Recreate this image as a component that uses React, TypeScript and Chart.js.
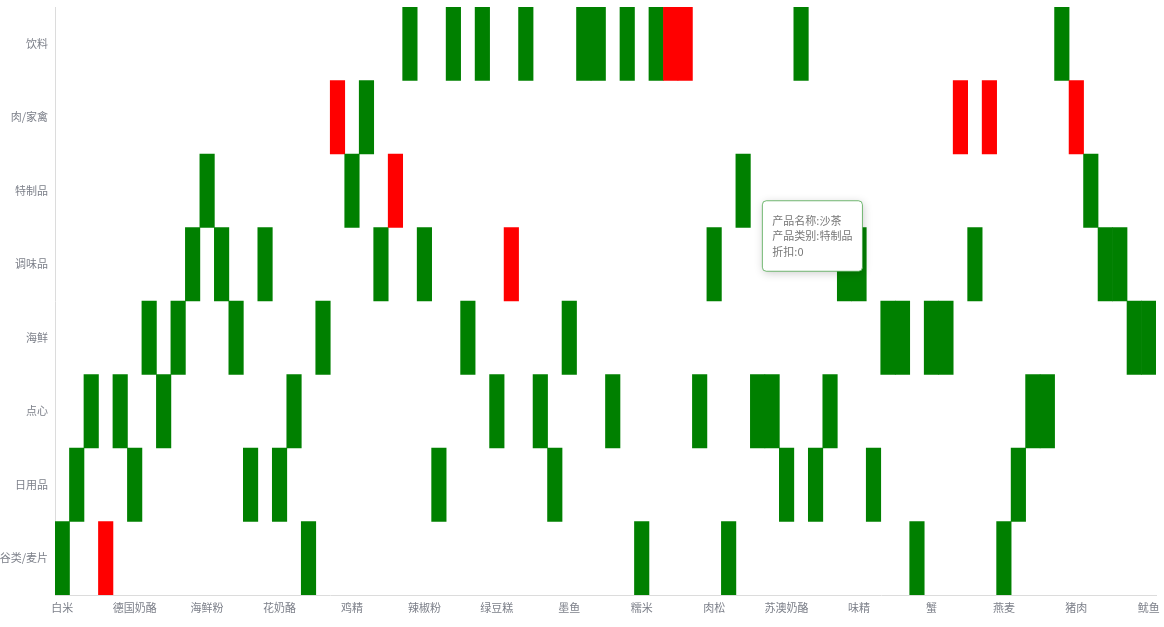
import React, { useEffect, useRef } from 'react';
import { Chart, registerables, Tooltip } from 'chart.js';

Chart.register(...registerables);

// y categories, bottom to top
const categories = ['谷类/麦片', '日用品', '点心', '海鲜', '调味品', '特制品', '肉/家禽', '饮料'];

const productNames = [
  '白米', '白奶酪', '饼干', '糙米', '蛋糕', '德国奶酪', '干贝', '桂花糕', '海参', '海苔酱',
  '海鲜粉', '海鲜酱', '海哲皮', '黑奶酪', '胡椒粉', '花奶酪', '花生', '黄豆', '黄鱼', '鸡',
  '鸡精', '鸡肉', '酱油', '烤肉酱', '矿泉水', '辣椒粉', '浪花奶酪', '柳橙汁', '龙虾', '绿茶',
  '绿豆糕', '麻油', '蜜桃汁', '棉花糖', '民众奶酪', '墨鱼', '柠檬汁', '牛奶', '牛肉干', '浓缩咖啡',
  '糯米', '啤酒', '苹果汁', '汽水', '巧克力', '肉松', '三合一麦片', '沙茶', '山渣片', '薯条',
  '苏澳奶酪', '苏打水', '酸奶酪', '糖果', '甜辣酱', '味精', '温馨奶酪', '虾米', '虾子', '小米',
  '蟹', '雪鱼', '鸭肉', '盐', '盐水鸭', '燕麦', '意大利奶酪', '玉米饼', '玉米片', '运动饮料',
  '猪肉', '猪肉干', '蕃茄酱', '蚝油', '蚵', '鱿鱼',
];

const productCategories = [
  '谷类/麦片', '日用品', '点心', '谷类/麦片', '点心', '日用品', '海鲜', '点心', '海鲜', '调味品',
  '特制品', '调味品', '海鲜', '日用品', '调味品', '日用品', '点心', '谷类/麦片', '海鲜', '肉/家禽',
  '特制品', '肉/家禽', '调味品', '特制品', '饮料', '调味品', '日用品', '饮料', '海鲜', '饮料',
  '点心', '调味品', '饮料', '点心', '日用品', '海鲜', '饮料', '饮料', '点心', '饮料',
  '谷类/麦片', '饮料', '饮料', '饮料', '点心', '调味品', '谷类/麦片', '特制品', '点心', '点心',
  '日用品', '饮料', '日用品', '点心', '调味品', '调味品', '日用品', '海鲜', '海鲜', '谷类/麦片',
  '海鲜', '海鲜', '肉/家禽', '调味品', '肉/家禽', '谷类/麦片', '日用品', '点心', '点心', '饮料',
  '肉/家禽', '特制品', '调味品', '调味品', '海鲜', '海鲜',
];

const discounts = [
  0, 0, 0, 1, 0, 0, 0, 0, 0, 0,
  0, 0, 0, 0, 0, 0, 0, 0, 0, 1,
  0, 0, 0, 1, 0, 0, 0, 0, 0, 0,
  0, 1, 0, 0, 0, 0, 0, 0, 0, 0,
  0, 0, 1, 1, 0, 0, 0, 0, 0, 0,
  0, 0, 0, 0, 0, 0, 0, 0, 0, 0,
  0, 0, 1, 0, 1, 0, 0, 0, 0, 0,
  1, 0, 0, 0, 0, 0,
];

const highlightedProduct = '沙茶';

const LABEL_COLOR = '#7d808a';
const FONT = "'Noto Sans CJK SC', 'Noto Sans', sans-serif";

export default function App() {
  const ref = useRef<HTMLCanvasElement>(null);

  useEffect(() => {
    const canvas = ref.current;
    if (!canvas) return;

    (Tooltip.positioners as any).pinned = function (items: any[]) {
      if (!items.length) return false;
      const el = items[0].element;
      return {
        x: el.x + el.width / 2 + 16,
        y: (el.y + el.base) / 2 + 10,
        xAlign: 'left',
        yAlign: 'top',
      };
    };

    const shadowPlugin = {
      id: 'tooltipShadow',
      beforeTooltipDraw(chart: any, args: any) {
        const t = args.tooltip;
        if (!t.opacity) return;
        const ctx = chart.ctx;
        ctx.save();
        ctx.shadowColor = 'rgba(0,0,0,0.2)';
        ctx.shadowBlur = 10;
        ctx.shadowOffsetX = 1;
        ctx.shadowOffsetY = 2;
        ctx.fillStyle = '#fff';
        ctx.beginPath();
        ctx.roundRect(t.x, t.y, t.width, t.height, 4);
        ctx.fill();
        ctx.restore();
      },
    };

    Chart.defaults.font.family = FONT;
    Chart.defaults.font.size = 11;

    const chart = new Chart(canvas, {
      type: 'bar',
      plugins: [shadowPlugin],
      data: {
        labels: productNames,
        datasets: [
          {
            label: '折扣',
            data: productCategories.map((c) => {
              const i = categories.indexOf(c);
              return [i, i + 1];
            }) as any,
            backgroundColor: discounts.map((d) => (d ? '#ff0000' : '#008000')),
            borderWidth: 0,
            barPercentage: 1,
            categoryPercentage: 1,
          },
        ],
      },
      options: {
        responsive: false,
        animation: false,
        events: [],
        layout: { padding: { top: 7, right: 8, left: 0, bottom: 0 } },
        plugins: {
          legend: { display: false },
          tooltip: {
            enabled: true,
            position: 'pinned' as any,
            xAlign: 'left',
            yAlign: 'top',
            backgroundColor: '#fff',
            borderColor: 'rgba(0,128,0,0.55)',
            borderWidth: 1,
            cornerRadius: 4,
            caretSize: 0,
            caretPadding: 0,
            padding: { top: 12, bottom: 12, left: 10, right: 10 },
            displayColors: false,
            bodyColor: '#777',
            bodyFont: { size: 11, lineHeight: '15.5px', family: FONT },
            bodySpacing: 0,
            callbacks: {
              title: () => '',
              label: (ctx: any) => [
                `产品名称:${productNames[ctx.dataIndex]}`,
                `产品类别:${productCategories[ctx.dataIndex]}`,
                `折扣:${discounts[ctx.dataIndex]}`,
              ],
            },
          },
        },
        scales: {
          x: {
            type: 'category',
            offset: true,
            grid: { display: false, drawTicks: false },
            border: { display: true, color: '#dcdcdc', width: 1 },
            ticks: {
              autoSkip: false,
              maxRotation: 0,
              minRotation: 0,
              padding: 6,
              color: LABEL_COLOR,
              font: { size: 11, family: FONT },
              callback: (_v: any, i: number) => (i % 5 === 0 ? productNames[i] : ''),
            },
            afterFit: (s: any) => {
              s.height = 32;
              s.paddingLeft = 0;
              s.paddingRight = 0;
            },
          },
          y: {
            type: 'linear',
            min: 0,
            max: categories.length,
            grid: { display: false, drawTicks: false },
            border: { display: true, color: '#dcdcdc', width: 1 },
            ticks: {
              padding: 7,
              color: LABEL_COLOR,
              font: { size: 11, family: FONT },
              callback: (v: any) => categories[Math.floor(Number(v))] ?? '',
            },
            afterBuildTicks: (s: any) => {
              s.ticks = categories.map((_, i) => ({ value: i + 0.5 }));
            },
            afterFit: (s: any) => {
              s.width = 55;
              s.paddingTop = 0;
              s.paddingBottom = 0;
            },
          },
        },
      },
    });

    const idx = productNames.indexOf(highlightedProduct);
    const meta = chart.getDatasetMeta(0);
    const el: any = meta.data[idx];
    chart.tooltip?.setActiveElements([{ datasetIndex: 0, index: idx }], { x: el.x, y: el.y });
    chart.update();

    return () => {
      chart.destroy();
    };
  }, []);

  return (
    <div style={{ position: 'fixed', left: 0, top: 0, width: 1164, height: 627, background: '#fff' }}>
      <canvas ref={ref} width={1164} height={627} style={{ display: 'block' }} />
    </div>
  );
}
